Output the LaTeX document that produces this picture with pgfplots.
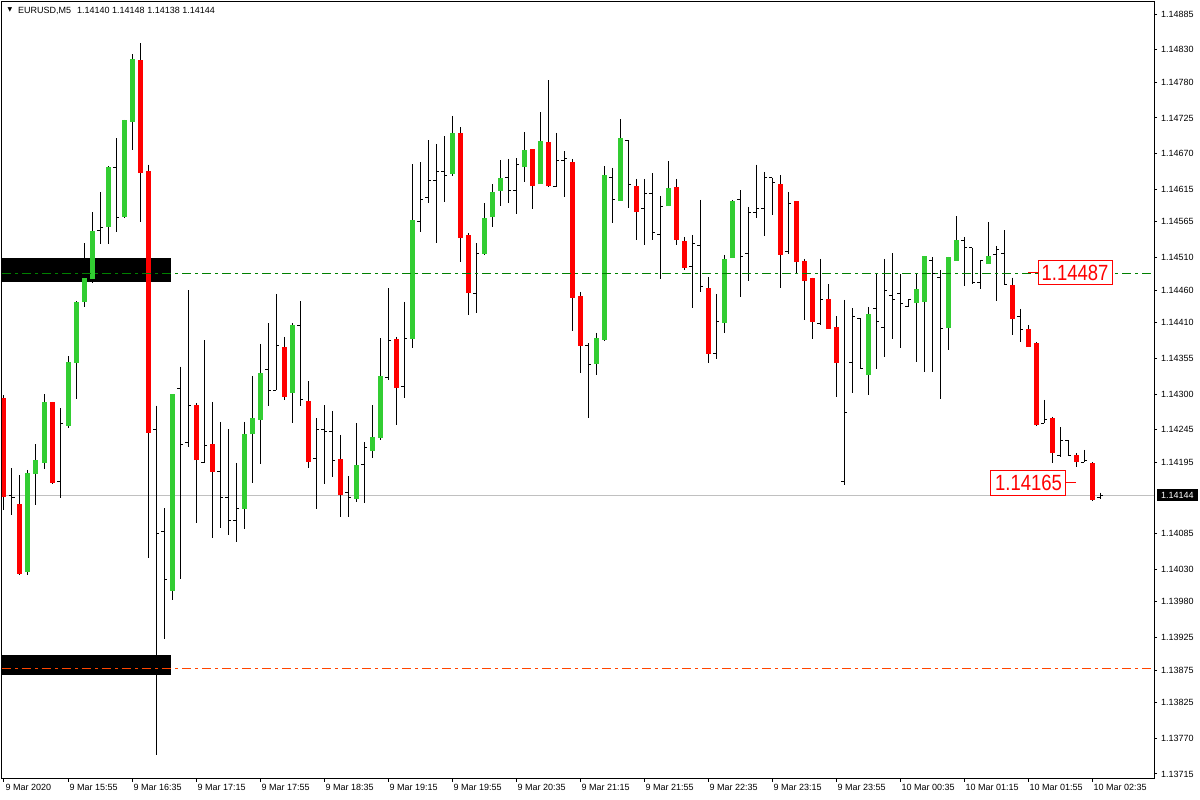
\documentclass[border=0pt]{standalone}
\usepackage{pgfplots}
\pgfplotsset{compat=1.18}
\usepackage{pgfplotstable}
\usepackage{fontspec}
\setmainfont{Liberation Sans}
\newfontfamily\symfont{DejaVu Sans}
\definecolor{bull}{HTML}{32CD32}
\definecolor{bear}{HTML}{FF0000}
\definecolor{lvgreen}{HTML}{008000}
\definecolor{lvorange}{HTML}{FF4500}
\definecolor{bidgray}{HTML}{C0C0C0}

% k = bar index (5-minute bars from 9 Mar 15:15), t: 0 plain bar, 1 bull body, 2 bear body
\pgfplotstableread{
k t O H L C
0 2 1.14294 1.14298 1.14121 1.14141
1 0 1.14144 1.14186 1.14114 1.14141
2 2 1.14131 1.14175 1.14021 1.14023
3 1 1.14026 1.14183 1.14021 1.14178
4 1 1.14177 1.14223 1.14129 1.14198
5 1 1.14194 1.14300 1.14185 1.14288
6 2 1.14288 1.14288 1.14161 1.14163
7 0 1.14165 1.14278 1.14140 1.14255
8 1 1.14251 1.14358 1.14248 1.14349
9 1 1.14348 1.14443 1.14292 1.14442
10 1 1.14442 1.14532 1.14434 1.14479
11 1 1.14477 1.14580 1.14471 1.14551
12 0 1.14551 1.14611 1.14531 1.14556
13 1 1.14557 1.14651 1.14531 1.14649
14 0 1.14649 1.14694 1.14549 1.14572
15 1 1.14572 1.14722 1.14571 1.14722
16 1 1.14719 1.14823 1.14676 1.14816
17 2 1.14814 1.14840 1.14565 1.14640
18 2 1.14643 1.14653 1.14048 1.14240
19 0 1.14245 1.14282 1.13744 1.14086
20 0 1.14089 1.14124 1.13923 1.14015
21 1 1.13997 1.14300 1.13983 1.14300
22 0 1.14309 1.14342 1.14015 1.14223
23 0 1.14225 1.14460 1.14218 1.14282
24 2 1.14283 1.14286 1.14101 1.14198
25 0 1.14195 1.14383 1.14194 1.14221
26 2 1.14223 1.14288 1.14078 1.14180
27 0 1.14180 1.14257 1.14094 1.14141
28 0 1.14140 1.14246 1.14083 1.14106
29 0 1.14106 1.14194 1.14072 1.14124
30 1 1.14123 1.14257 1.14092 1.14238
31 1 1.14238 1.14328 1.14163 1.14263
32 1 1.14260 1.14377 1.14192 1.14332
33 0 1.14337 1.14409 1.14282 1.14306
34 0 1.14306 1.14454 1.14306 1.14374
35 2 1.14372 1.14388 1.14291 1.14295
36 1 1.14302 1.14409 1.14255 1.14406
37 0 1.14406 1.14443 1.14282 1.14291
38 2 1.14289 1.14320 1.14186 1.14195
39 0 1.14200 1.14263 1.14123 1.14245
40 0 1.14246 1.14283 1.14161 1.14243
41 0 1.14243 1.14274 1.14172 1.14197
42 2 1.14200 1.14237 1.14111 1.14144
43 0 1.14148 1.14174 1.14111 1.14141
44 1 1.14138 1.14255 1.14134 1.14191
45 0 1.14191 1.14226 1.14132 1.14217
46 1 1.14212 1.14283 1.14201 1.14234
47 1 1.14232 1.14386 1.14229 1.14328
48 0 1.14326 1.14463 1.14322 1.14382
49 2 1.14385 1.14388 1.14252 1.14309
50 0 1.14311 1.14442 1.14294 1.14386
51 1 1.14385 1.14654 1.14371 1.14568
52 0 1.14565 1.14657 1.14549 1.14599
53 0 1.14602 1.14691 1.14594 1.14628
54 0 1.14628 1.14685 1.14532 1.14642
55 0 1.14642 1.14697 1.14596 1.14637
56 1 1.14639 1.14728 1.14636 1.14702
57 2 1.14702 1.14711 1.14503 1.14540
58 2 1.14545 1.14548 1.14422 1.14455
59 0 1.14454 1.14532 1.14425 1.14517
60 1 1.14516 1.14594 1.14514 1.14571
61 1 1.14572 1.14623 1.14557 1.14611
62 1 1.14613 1.14660 1.14589 1.14633
63 0 1.14634 1.14662 1.14594 1.14614
64 0 1.14613 1.14663 1.14577 1.14653
65 1 1.14649 1.14703 1.14626 1.14676
66 2 1.14677 1.14677 1.14585 1.14620
67 1 1.14623 1.14734 1.14623 1.14689
68 2 1.14688 1.14783 1.14619 1.14620
69 0 1.14620 1.14702 1.14619 1.14660
70 0 1.14660 1.14674 1.14603 1.14662
71 2 1.14657 1.14662 1.14397 1.14448
72 2 1.14451 1.14457 1.14332 1.14374
73 0 1.14375 1.14378 1.14263 1.14346
74 1 1.14346 1.14394 1.14329 1.14386
75 1 1.14383 1.14651 1.14382 1.14637
76 0 1.14634 1.14648 1.14563 1.14599
77 1 1.14597 1.14723 1.14597 1.14694
78 0 1.14691 1.14691 1.14586 1.14622
79 2 1.14620 1.14631 1.14537 1.14580
80 0 1.14585 1.14631 1.14529 1.14608
81 0 1.14608 1.14640 1.14537 1.14549
82 0 1.14546 1.14605 1.14477 1.14589
83 1 1.14589 1.14659 1.14589 1.14617
84 2 1.14619 1.14631 1.14529 1.14537
85 2 1.14536 1.14542 1.14491 1.14494
86 0 1.14497 1.14545 1.14432 1.14532
87 0 1.14528 1.14599 1.14457 1.14465
88 2 1.14463 1.14480 1.14348 1.14362
89 0 1.14363 1.14454 1.14354 1.14411
90 1 1.14409 1.14514 1.14394 1.14508
91 1 1.14509 1.14599 1.14509 1.14597
92 0 1.14599 1.14614 1.14449 1.14512
93 0 1.14516 1.14588 1.14474 1.14579
94 0 1.14579 1.14653 1.14571 1.14586
95 0 1.14586 1.14642 1.14543 1.14633
96 0 1.14633 1.14633 1.14576 1.14625
97 2 1.14623 1.14637 1.14463 1.14514
98 0 1.14519 1.14611 1.14516 1.14594
99 2 1.14597 1.14597 1.14485 1.14503
100 2 1.14505 1.14508 1.14414 1.14474
101 2 1.14479 1.14479 1.14385 1.14411
102 0 1.14409 1.14508 1.14406 1.14446
103 2 1.14446 1.14469 1.14400 1.14400
104 2 1.14403 1.14420 1.14295 1.14348
105 0 1.14165 1.14445 1.14160 1.14272
106 0 1.14348 1.14432 1.14302 1.14419
107 0 1.14417 1.14417 1.14340 1.14340
108 1 1.14329 1.14434 1.14298 1.14423
109 0 1.14432 1.14485 1.14338 1.14411
110 0 1.14402 1.14508 1.14357 1.14459
111 0 1.14452 1.14517 1.14385 1.14445
112 0 1.14455 1.14485 1.14371 1.14439
113 0 1.14435 1.14446 1.14434 1.14446
114 1 1.14440 1.14485 1.14349 1.14462
115 1 1.14442 1.14512 1.14334 1.14512
116 0 1.14505 1.14511 1.14334 1.14485
117 0 1.14480 1.14491 1.14292 1.14401
118 1 1.14401 1.14511 1.14368 1.14511
119 1 1.14505 1.14574 1.14505 1.14537
120 0 1.14536 1.14542 1.14466 1.14525
121 0 1.14525 1.14525 1.14469 1.14471
122 0 1.14472 1.14505 1.14462 1.14505
123 1 1.14500 1.14565 1.14500 1.14512
124 0 1.14514 1.14528 1.14443 1.14522
125 0 1.14517 1.14552 1.14469 1.14469
126 2 1.14468 1.14479 1.14391 1.14415
127 0 1.14419 1.14431 1.14380 1.14400
128 2 1.14400 1.14406 1.14372 1.14372
129 2 1.14378 1.14380 1.14251 1.14252
130 0 1.14255 1.14291 1.14255 1.14261
131 2 1.14263 1.14265 1.14194 1.14209
132 0 1.14206 1.14249 1.14203 1.14228
133 0 1.14228 1.14229 1.14205 1.14206
134 2 1.14206 1.14209 1.14188 1.14195
135 0 1.14195 1.14214 1.14195 1.14197
136 2 1.14194 1.14195 1.14135 1.14137
137 0 1.14140 1.14148 1.14138 1.14144
}\candles

\begin{document}
\begin{tikzpicture}[x=1pt,y=1pt]
\useasboundingbox (0,0) rectangle (1200,800);
\begin{axis}[
  at={(2pt,21pt)}, anchor=south west,
  scale only axis, width=1152pt, height=777pt,
  xmin=-0.25, xmax=143.75, ymin=1.137073, ymax=1.149035,
  clip mode=individual,
  axis line style={black, line width=1pt},
  tick align=outside,
  major tick length=3pt,
  xtick pos=left, ytick pos=right,
  yticklabel pos=right,
  tick style={black, line width=1pt},
  xtick={0,8,...,136},
  xticklabels={9 Mar 2020,9 Mar 15:55,9 Mar 16:35,9 Mar 17:15,9 Mar 17:55,9 Mar 18:35,9 Mar 19:15,9 Mar 19:55,9 Mar 20:35,9 Mar 21:15,9 Mar 21:55,9 Mar 22:35,9 Mar 23:15,9 Mar 23:55,10 Mar 00:35,10 Mar 01:15,10 Mar 01:55,10 Mar 02:35},
  ytick={1.13715,1.13770,1.13825,1.13875,1.13925,1.13980,1.14030,1.14085,1.14195,1.14245,1.14300,1.14355,1.14410,1.14460,1.14510,1.14565,1.14615,1.14670,1.14725,1.14780,1.14830,1.14885},
  yticklabels={1.13715,1.13770,1.13825,1.13875,1.13925,1.13980,1.14030,1.14085,1.14195,1.14245,1.14300,1.14355,1.14410,1.14460,1.14510,1.14565,1.14615,1.14670,1.14725,1.14780,1.14830,1.14885},
  xticklabel style={anchor=north west, inner sep=0pt, xshift=1.5pt, yshift=-2pt, font=\fontsize{9}{10}\selectfont},
  yticklabel style={anchor=west, inner sep=0pt, xshift=4pt, font=\fontsize{9}{10}\selectfont},
]
% background rectangles
\addplot[fill=black, draw=none, mark=none, forget plot] coordinates {(-0.25,1.14509) (20.875,1.14509) (20.875,1.14472) (-0.25,1.14472)} -- cycle;
\addplot[fill=black, draw=none, mark=none, forget plot] coordinates {(-0.25,1.13898) (20.875,1.13898) (20.875,1.13867) (-0.25,1.13867)} -- cycle;
% bid line
\addplot[bidgray, line width=1pt, mark=none, forget plot] coordinates {(-0.25,1.14144) (143.75,1.14144)};
% wicks
\addplot[draw=none, mark=none, forget plot,
  error bars/.cd, y dir=minus, y explicit, error mark=none,
  error bar style={draw=black, line width=1pt, solid}]
  table[x=k, y=H, y error minus expr={\thisrow{H}-\thisrow{L}}] {\candles};
% open ticks (left) of plain bars
\addplot[draw=none, mark=none, forget plot,
  restrict expr to domain={\thisrow{t}}{0:0},
  error bars/.cd, x dir=minus, x fixed=0.375, error mark=none,
  error bar style={draw=black, line width=1pt, solid}]
  table[x=k, y=O] {\candles};
% close ticks (right) of plain bars
\addplot[draw=none, mark=none, forget plot,
  restrict expr to domain={\thisrow{t}}{0:0},
  error bars/.cd, x dir=plus, x fixed=0.375, error mark=none,
  error bar style={draw=black, line width=1pt, solid}]
  table[x=k, y=C] {\candles};
% bull bodies
\addplot[draw=none, mark=none, forget plot,
  restrict expr to domain={\thisrow{t}}{1:1},
  error bars/.cd, y dir=plus, y explicit, error mark=none,
  error bar style={draw=bull, line width=5pt, solid}]
  table[x=k, y=O, y error plus expr={\thisrow{C}-\thisrow{O}}] {\candles};
% bear bodies
\addplot[draw=none, mark=none, forget plot,
  restrict expr to domain={\thisrow{t}}{2:2},
  error bars/.cd, y dir=plus, y explicit, error mark=none,
  error bar style={draw=bear, line width=5pt, solid}]
  table[x=k, y=C, y error plus expr={\thisrow{O}-\thisrow{C}}] {\candles};
% level lines
\addplot[lvgreen, line width=1pt, mark=none, dash pattern=on 9pt off 4pt on 3pt off 4pt, forget plot] coordinates {(-0.25,1.14486) (143.75,1.14486)};
\addplot[lvorange, line width=1pt, mark=none, dash pattern=on 9pt off 4pt on 3pt off 4pt, forget plot] coordinates {(-0.25,1.13878) (143.75,1.13878)};
% price labels
\draw[red, line width=1pt] (axis cs:128,1.144878) -- (axis cs:129.25,1.144878);
\node[draw=red, line width=1pt, fill=white, text=red, inner sep=0pt, minimum width=74pt, minimum height=24pt, font=\fontsize{22}{22}\selectfont] at (axis cs:133.875,1.144863) {\scalebox{0.84}[1]{1.14487}};
\draw[red, line width=1pt] (axis cs:132.75,1.14163) -- (axis cs:134,1.14163);
\node[draw=red, line width=1pt, fill=white, text=red, inner sep=0pt, minimum width=75pt, minimum height=25pt, font=\fontsize{22}{22}\selectfont] at (axis cs:128.06,1.141637) {\scalebox{0.84}[1]{1.14165}};
% current price tag
\node[fill=black, text=white, inner xsep=4pt, inner ysep=0pt, minimum height=12pt, anchor=west, xshift=3pt, font=\fontsize{9}{10}\selectfont] at (axis cs:143.75,1.14144) {1.14144};
% title
\node[inner sep=0pt, xshift=8pt, yshift=-8pt, font=\symfont\fontsize{6}{6}\selectfont] at (rel axis cs:0,1) {▼};
\node[anchor=west, inner sep=0pt, xshift=16pt, yshift=-8.5pt, font=\fontsize{9}{10}\selectfont] at (rel axis cs:0,1) {EURUSD,M5\hspace{6pt}1.14140 1.14148 1.14138 1.14144};
\end{axis}
\end{tikzpicture}
\end{document}
